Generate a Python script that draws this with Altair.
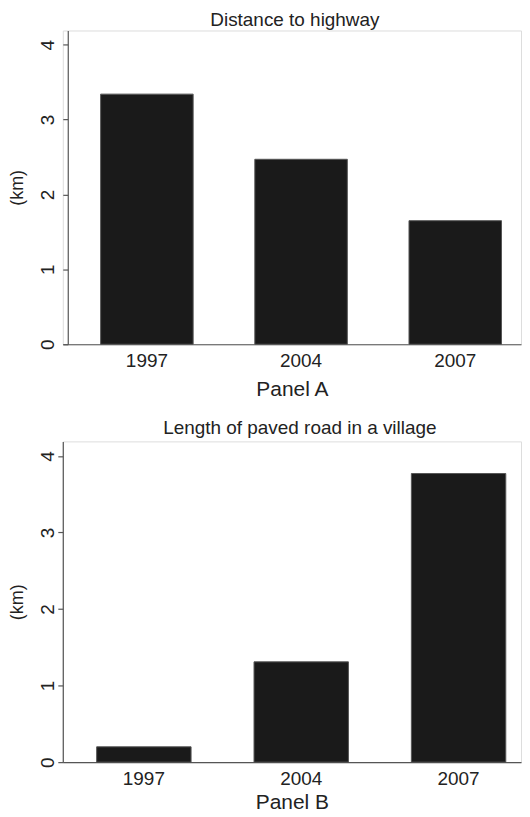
import altair as alt
import pandas as pd

years = ["1997", "2004", "2007"]
distance_km = [3.34, 2.47, 1.65]
paved_km = [0.20, 1.31, 3.77]

FONT = "Liberation Sans"
TXT = "#222222"
AX = "#555555"

dfA = pd.DataFrame({"year": years, "value": distance_km})
dfB = pd.DataFrame({"year": years, "value": paved_km})


def panel(df, title, xlabel, width, height, pad_o, align, label_pad, y_offset,
          x_title_pad, title_dx, title_off):
    return (
        alt.Chart(df, title=alt.Title(title, fontSize=19, fontWeight="normal", font=FONT,
                                      color=TXT, anchor="middle", dx=title_dx, offset=title_off))
        .mark_bar(color="#1a1a1a", stroke="#555555", strokeWidth=1)
        .encode(
            x=alt.X("year:N", sort=years,
                    scale=alt.Scale(paddingInner=0.4, paddingOuter=pad_o, align=align),
                    axis=alt.Axis(title=xlabel, labelAngle=0, ticks=False, tickSize=0,
                                  labelPadding=7, labelFontSize=19, labelFont=FONT,
                                  labelColor=TXT, titleFont=FONT, titleFontSize=21,
                                  titleFontWeight="normal", titleColor=TXT,
                                  titlePadding=x_title_pad,
                                  domainColor=AX, domainWidth=1.2)),
            y=alt.Y("value:Q",
                    scale=alt.Scale(domain=[0, 4.19], nice=False, zero=True),
                    axis=alt.Axis(title="(km)", values=[0, 1, 2, 3, 4], grid=False,
                                  offset=y_offset,
                                  labelAngle=270, labelAlign="center", labelBaseline="alphabetic",
                                  labelPadding=label_pad, tickSize=5, tickColor=AX, tickWidth=1.2,
                                  labelFontSize=19, labelFont=FONT, labelColor=TXT,
                                  titleFont=FONT, titleFontSize=18, titleFontWeight="normal",
                                  titleColor=TXT, titlePadding=12,
                                  domainColor=AX, domainWidth=1.2)),
        )
        .properties(width=width, height=height)
    )


A = panel(dfA, "Distance to highway", "Panel A", 460, 315, 0.186, 0.66, 9, -5, 8, 3, 1)
B = panel(dfB, "Length of paved road in a village", "Panel B", 460, 322, 0.156, 0.69, 4, 0, 3.5, 8, 3)

chart = (
    alt.vconcat(A, B, spacing=18.5)
    .properties(padding={"left": 0, "top": 0, "right": 0, "bottom": 0})
    .configure_view(strokeWidth=0, stroke="transparent")
    .configure(background="white")
)

chart.save("out.html", embed_options={"renderer": "svg", "actions": False})
